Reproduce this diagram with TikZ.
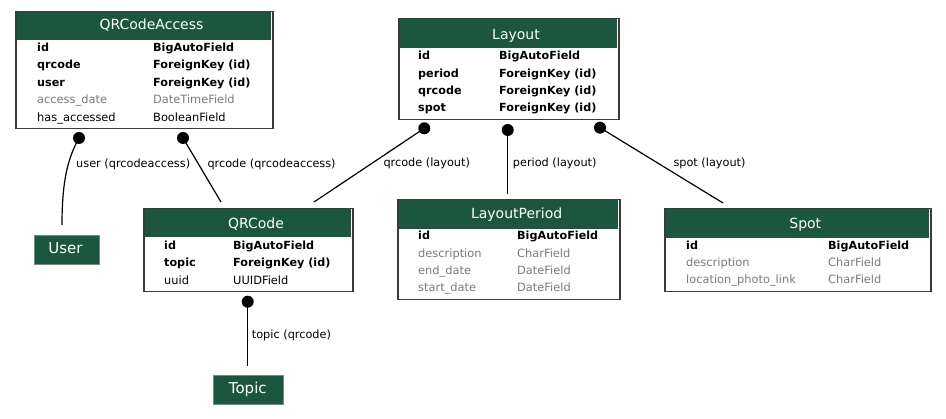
\documentclass[tikz,border=0pt]{standalone}
\usepackage{fontspec}
\setmainfont{DejaVu Sans}
\definecolor{hdrgreen}{HTML}{1B563F}
\definecolor{fieldgray}{HTML}{7B7B7B}
\definecolor{bordergray}{HTML}{3A3A3A}
\begin{document}
\begin{tikzpicture}[x=1pt,y=-1pt,
  tbl/.style={draw=bordergray, line width=1.5pt, inner sep=0pt, anchor=north west},
  hdr/.style={fill=hdrgreen, draw=none, inner sep=0pt, anchor=north west},
  title/.style={text=white, font=\fontsize{14}{16}\selectfont, anchor=base, inner sep=0pt},
  fb/.style={font=\fontsize{11.2}{13}\selectfont\bfseries, anchor=base west, inner sep=0pt},
  fr/.style={font=\fontsize{11.4}{13}\selectfont, anchor=base west, inner sep=0pt},
  fg/.style={fr, text=fieldgray},
  elabel/.style={font=\fontsize{11.3}{13}\selectfont, anchor=base west, inner sep=0pt},
  ext/.style={fill=hdrgreen, draw=hdrgreen!65!white, line width=0.6pt, text=white, font=\fontsize{15}{17}\selectfont, inner sep=0pt, anchor=north west},
  conn/.style={line width=1.2pt, draw=black},
  fkdot/.style={fill=black}]
\useasboundingbox (0,0) rectangle (946,419);
\fill[white] (0,0) rectangle (946,419);

% ---------------- QRCodeAccess
\node[hdr, minimum width=255pt, minimum height=28pt] (qcaH) at (16,12) {};
\node[tbl, minimum width=257pt, minimum height=117pt] (qca) at (15,11) {};
\node[title] (qcaT) at (151.5,30) {QRCodeAccess};
\node[fb] (qca1a) at (37,51.5) {id};
\node[fb] (qca1b) at (153,51.5) {BigAutoField};
\node[fb] (qca2a) at (37,69) {qrcode};
\node[fb] (qca2b) at (153,69) {ForeignKey (id)};
\node[fb] (qca3a) at (37,86.5) {user};
\node[fb] (qca3b) at (153,86.5) {ForeignKey (id)};
\node[fg] (qca4a) at (37,104) {access\_date};
\node[fg] (qca4b) at (153,104) {DateTimeField};
\node[fr] (qca5a) at (37,121.5) {has\_accessed};
\node[fr] (qca5b) at (153,121.5) {BooleanField};

% ---------------- Layout
\node[hdr, minimum width=218pt, minimum height=29pt] (layH) at (399,19) {};
\node[tbl, minimum width=220pt, minimum height=101pt] (lay) at (398,18) {};
\node[title] (layT) at (516,39.3) {Layout};
\node[fb] (lay1a) at (418,60) {id};
\node[fb] (lay1b) at (499,60) {BigAutoField};
\node[fb] (lay2a) at (418,77.3) {period};
\node[fb] (lay2b) at (499,77.3) {ForeignKey (id)};
\node[fb] (lay3a) at (418,94.6) {qrcode};
\node[fb] (lay3b) at (499,94.6) {ForeignKey (id)};
\node[fb] (lay4a) at (418,112) {spot};
\node[fb] (lay4b) at (499,112) {ForeignKey (id)};

% ---------------- QRCode
\node[hdr, minimum width=207pt, minimum height=28pt] (qrH) at (144,209) {};
\node[tbl, minimum width=209pt, minimum height=83pt] (qr) at (143,208) {};
\node[title] (qrT) at (256,228.3) {QRCode};
\node[fb] (qr1a) at (164,249.3) {id};
\node[fb] (qr1b) at (233,249.3) {BigAutoField};
\node[fb] (qr2a) at (164,266.8) {topic};
\node[fb] (qr2b) at (233,266.8) {ForeignKey (id)};
\node[fr] (qr3a) at (164,284.3) {uuid};
\node[fr] (qr3b) at (233,284.3) {UUIDField};

% ---------------- LayoutPeriod
\node[hdr, minimum width=220pt, minimum height=29pt] (lpH) at (398,200) {};
\node[tbl, minimum width=222pt, minimum height=100pt] (lp) at (397,199) {};
\node[title] (lpT) at (516.7,218.3) {LayoutPeriod};
\node[fb] (lp1a) at (418,240) {id};
\node[fb] (lp1b) at (517,240) {BigAutoField};
\node[fg] (lp2a) at (418,257.2) {description};
\node[fg] (lp2b) at (517,257.2) {CharField};
\node[fg] (lp3a) at (418,274.4) {end\_date};
\node[fg] (lp3b) at (517,274.4) {DateField};
\node[fg] (lp4a) at (418,291.6) {start\_date};
\node[fg] (lp4b) at (517,291.6) {DateField};

% ---------------- Spot
\node[hdr, minimum width=264pt, minimum height=29pt] (spH) at (665,209) {};
\node[tbl, minimum width=266pt, minimum height=83pt] (sp) at (664,208) {};
\node[title] (spT) at (805.3,229) {Spot};
\node[fb] (sp1a) at (686,249.3) {id};
\node[fb] (sp1b) at (828,249.3) {BigAutoField};
\node[fg] (sp2a) at (686,266.7) {description};
\node[fg] (sp2b) at (828,266.7) {CharField};
\node[fg] (sp3a) at (686,284) {location\_photo\_link};
\node[fg] (sp3b) at (828,284) {CharField};

% ---------------- external models
\node[ext, minimum width=65pt, minimum height=29pt] (user) at (34,235) {};
\node[text=white, font=\fontsize{15}{17}\selectfont, anchor=base, inner sep=0pt] (userT) at (65.5,253.5) {User};
\node[ext, minimum width=70pt, minimum height=29pt] (topic) at (213,375) {};
\node[text=white, font=\fontsize{15}{17}\selectfont, anchor=base, inner sep=0pt] (topicT) at (247.8,394) {Topic};

% ---------------- connector ends
\coordinate (d1) at (79,138);
\coordinate (u1) at (62,225);
\coordinate (d2) at (183,138);
\coordinate (q2) at (221,202);
\coordinate (d3) at (424.3,128.3);
\coordinate (q3) at (314,202);
\coordinate (d4) at (507.7,130);
\coordinate (p4) at (507.7,194.5);
\coordinate (d5) at (600,127.7);
\coordinate (s5) at (723,203);
\coordinate (d6) at (247.7,301.7);
\coordinate (t6) at (247.7,365.7);

\draw[conn] (d1) .. controls (68,158) and (62,180) .. (u1);
\draw[conn] (d2) -- (q2);
\draw[conn] (d3) -- (q3);
\draw[conn] (d4) -- (p4);
\draw[conn] (d5) -- (s5);
\draw[conn] (d6) -- (t6);
\foreach \d in {d1,d2,d3,d4,d5,d6} \fill[fkdot] (\d) circle (6pt);

% ---------------- connector labels
\node[elabel] (l1) at (76,167.5) {user (qrcodeaccess)};
\node[elabel] (l2) at (207.3,167.5) {qrcode (qrcodeaccess)};
\node[elabel] (l3) at (383.3,166.7) {qrcode (layout)};
\node[elabel] (l4) at (512.7,166.7) {period (layout)};
\node[elabel] (l5) at (673.3,167) {spot (layout)};
\node[elabel] (l6) at (251.7,338.5) {topic (qrcode)};
\end{tikzpicture}
\end{document}
